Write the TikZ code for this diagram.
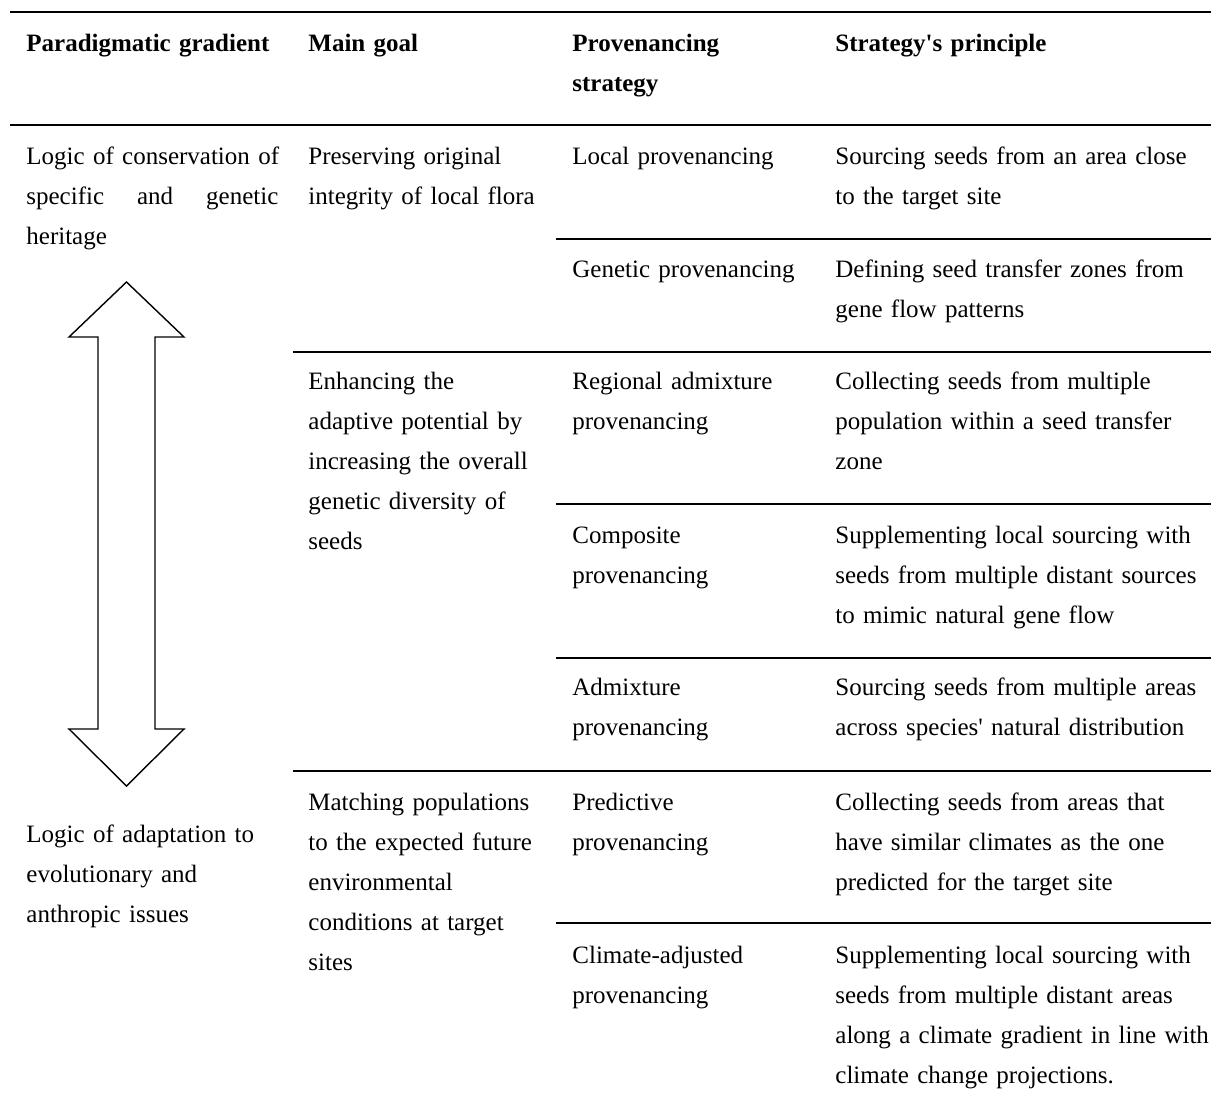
\documentclass[tikz,border=0pt]{standalone}
\usepackage{fontspec}
\setmainfont{Liberation Serif}
\tikzset{
  cell/.style={anchor=base west, inner sep=0pt, text width=200pt, align=left, font=\fontsize{12.5}{20}\selectfont},
  head/.style={cell, font=\fontsize{12.5}{20}\selectfont\bfseries},
  rule/.style={line width=1pt}
}

\begin{document}
\begin{tikzpicture}[x=0.5pt,y=-0.5pt]
			\useasboundingbox (0,0) rectangle (1211,1110);
			% rules
			\foreach \y in {12,125} {\draw[rule] (10,\y) -- (1211,\y);};
			\foreach \y in {352,771} {\draw[rule] (293,\y) -- (1211,\y);};
			\foreach \y in {239,504,658,923} {\draw[rule] (556,\y) -- (1211,\y);};
			% header
			\node[head] (hgrad) at (26,51) {Paradigmatic gradient};
			\node[head] (hgoal) at (308,51) {Main goal};
			\node[head] (hstrat) at (572,51) {Provenancing\\strategy};
			\node[head] (hprin) at (835,51) {Strategy\textquotesingle s principle};
			% gradient
			\node[cell] (conserv) at (26,164) {Logic of conservation of\\\leavevmode\hbox to 126pt{specific\hfill and\hfill genetic}\\heritage};
			\node[cell] (adapt) at (26,842) {Logic of adaptation to\\evolutionary and\\anthropic issues};
			\draw[line width=0.7pt] (126.5,282) -- (184,337) -- (155,337) -- (155,729) -- (184,729) -- (126.5,786)
				-- (69,729) -- (98,729) -- (98,337) -- (69,337) -- cycle;
			% goals
			\node[cell] (gpreserve) at (308,164) {Preserving original\\integrity of local flora};
			\node[cell] (genhance) at (308,389) {Enhancing the\\adaptive potential by\\increasing the overall\\genetic diversity of\\seeds};
			\node[cell] (gmatch) at (308,810) {Matching populations\\to the expected future\\environmental\\conditions at target\\sites};
			% strategies
			\node[cell] (slocal) at (572,164) {Local provenancing};
			\node[cell] (sgenetic) at (572,277) {Genetic provenancing};
			\node[cell] (sregional) at (572,389) {Regional admixture\\provenancing};
			\node[cell] (scomposite) at (572,543) {Composite\\provenancing};
			\node[cell] (sadmix) at (572,695) {Admixture\\provenancing};
			\node[cell] (spredict) at (572,810) {Predictive\\provenancing};
			\node[cell] (sclimate) at (572,963) {Climate-adjusted\\provenancing};
			% principles
			\node[cell] (plocal) at (835,164) {Sourcing seeds from an area close\\to the target site};
			\node[cell] (pgenetic) at (835,277) {Defining seed transfer zones from\\gene flow patterns};
			\node[cell] (pregional) at (835,389) {Collecting seeds from multiple\\population within a seed transfer\\zone};
			\node[cell] (pcomposite) at (835,543) {Supplementing local sourcing with\\seeds from multiple distant sources\\to mimic natural gene flow};
			\node[cell] (padmix) at (835,695) {Sourcing seeds from multiple areas\\across species\textquotesingle\ natural distribution};
			\node[cell] (ppredict) at (835,810) {Collecting seeds from areas that\\have similar climates as the one\\predicted for the target site};
			\node[cell] (pclimate) at (835,963) {Supplementing local sourcing with\\seeds from multiple distant areas\\along a climate gradient in line with\\climate change projections.};
		\end{tikzpicture}
\end{document}
